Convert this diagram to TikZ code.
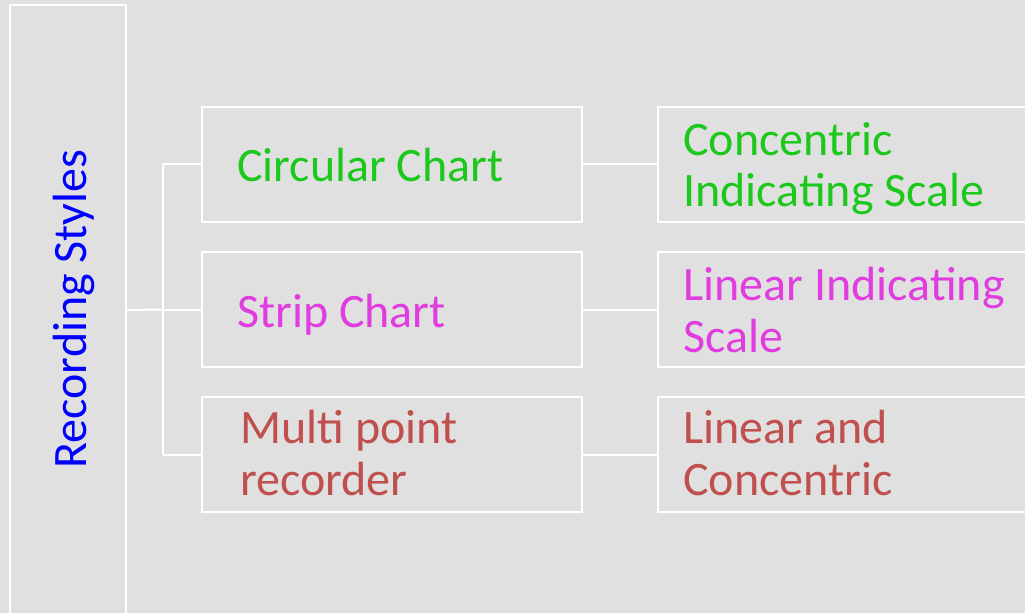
\documentclass[tikz,border=0pt]{standalone}
\usepackage{fontspec}
\setmainfont{Carlito}
\definecolor{bg}{HTML}{E0E0E0}
\definecolor{tgreen}{HTML}{1CC81C}
\definecolor{tmag}{HTML}{E03CE0}
\definecolor{tred}{HTML}{C0504D}
\definecolor{tblue}{HTML}{0000FF}
\begin{document}
\begin{tikzpicture}[x=0.75pt,y=-0.75pt,
  box/.style={draw=white, line width=1.5pt, fill=none, inner sep=0pt},
  lbl/.style={anchor=base west, align=left, inner sep=0pt, font=\fontsize{36}{38.5}\selectfont},
  conn/.style={draw=white, line width=1.5pt}]
\fill[bg] (0,0) rectangle (1025,613);
\useasboundingbox (0,0) rectangle (1025,613);
% root
\node[box, minimum width=116*0.75pt, minimum height=610*0.75pt] (root) at (68,310) {};
\node[anchor=base, rotate=90, inner sep=0pt, font=\fontsize{36}{38.5}\selectfont, text=tblue] (roottxt) at (86,309) {Recording Styles};
% column 1 boxes
\node[box, minimum width=380*0.75pt, minimum height=115*0.75pt] (c1) at (392,164.5) {};
\node[box, minimum width=380*0.75pt, minimum height=115*0.75pt] (c2) at (392,309.5) {};
\node[box, minimum width=380*0.75pt, minimum height=115*0.75pt] (c3) at (392,454.5) {};
% column 2 boxes
\node[box, minimum width=390*0.75pt, minimum height=115*0.75pt] (d1) at (853,164.5) {};
\node[box, minimum width=390*0.75pt, minimum height=115*0.75pt] (d2) at (853,309.5) {};
\node[box, minimum width=390*0.75pt, minimum height=115*0.75pt] (d3) at (853,454.5) {};
% labels (base = baseline of last line)
\node[lbl, text=tgreen] (t1) at (237,182) {Circular Chart};
\node[lbl, text=tmag] (t2) at (237,327) {Strip Chart};
\node[lbl, text=tred] (t3) at (240,495) {Multi point\\recorder};
\node[lbl, text=tgreen] (u1) at (683,207) {Concentric\\Indicating Scale};
\node[lbl, text=tmag] (u2) at (683,352) {Linear Indicating\\Scale};
\node[lbl, text=tred] (u3) at (683,495) {Linear and\\Concentric};
% connectors
\coordinate (jm) at (163,309.5);
\coordinate (j1) at (163,164.5);
\coordinate (j3) at (163,454.5);
\draw[conn] (root.east) -- (jm);
\draw[conn] (j1) -- (j3);
\draw[conn] (j1) -- (c1.west);
\draw[conn] (jm) -- (c2.west);
\draw[conn] (j3) -- (c3.west);
\draw[conn] (c1.east) -- (d1.west);
\draw[conn] (c2.east) -- (d2.west);
\draw[conn] (c3.east) -- (d3.west);
\end{tikzpicture}
\end{document}
